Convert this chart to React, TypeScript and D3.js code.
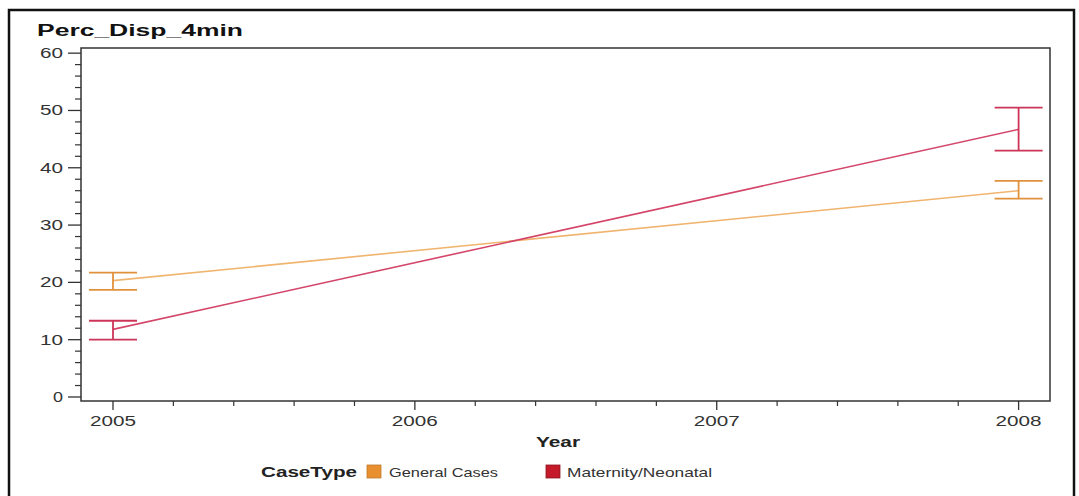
import React from "react";
import * as d3 from "d3";

// Survey years and the two case-type series (mean with lower/upper confidence limits)
const years = [2005, 2008];
const generalMean = [20.3, 36.0];
const generalLower = [18.7, 34.6];
const generalUpper = [21.7, 37.7];
const maternityMean = [11.8, 46.7];
const maternityLower = [10.0, 43.0];
const maternityUpper = [13.3, 50.5];

const yTicks = [0, 10, 20, 30, 40, 50, 60];
const xTicks = [2005, 2006, 2007, 2008];
const seriesNames = ["General Cases", "Maternity/Neonatal"];

const W = 1079;
const H = 496;
const FONT = "'Liberation Sans', Arial, sans-serif";

export default function App() {
  const x = d3.scaleLinear().domain([2004.894, 2008.104]).range([81, 1050]);
  const y = d3.scaleLinear().domain([-0.7, 60.9]).range([401, 48]);

  const series = [
    { name: seriesNames[0], mean: generalMean, lo: generalLower, hi: generalUpper, line: "#f0b46e", bar: "#e0913c", swatch: "#e8902f" },
    { name: seriesNames[1], mean: maternityMean, lo: maternityLower, hi: maternityUpper, line: "#d4456a", bar: "#cc3558", swatch: "#c41a2a" },
  ];

  const line = d3
    .line<number>()
    .x((_, i) => x(years[i]))
    .y((d) => y(d));

  const minorY = d3.range(0, 61, 2).filter((v) => v % 10 !== 0);
  const minorX = d3.range(2005, 2008.001, 0.2).filter((v) => Math.abs(v - Math.round(v)) > 0.01);
  const capHalf = 24;

  return (
    <svg width={W} height={H} style={{ position: "absolute", left: 0, top: 0, background: "#fff" }}>
      {/* outer frame */}
      <rect x={9} y={10} width={1065} height={500} fill="none" stroke="#111" strokeWidth={2.5} />

      <text x={37} y={36} fontFamily={FONT} fontWeight="bold" fontSize={16} textLength={206} lengthAdjust="spacingAndGlyphs" fill="#111">
        Perc_Disp_4min
      </text>

      {/* plot box */}
      <rect x={81} y={48} width={969} height={353} fill="#fff" stroke="#333" strokeWidth={1.5} />

      {/* y axis ticks */}
      {yTicks.map((t) => (
        <g key={"y" + t}>
          <line x1={68} x2={81} y1={y(t)} y2={y(t)} stroke="#333" strokeWidth={1.3} />
          <text x={63} y={y(t) + 5} textAnchor="end" fontFamily={FONT} fontSize={14} textLength={t === 0 ? 10 : 23} lengthAdjust="spacingAndGlyphs" fill="#333">
            {t}
          </text>
        </g>
      ))}
      {minorY.map((t) => (
        <line key={"ym" + t} x1={75} x2={81} y1={y(t)} y2={y(t)} stroke="#333" strokeWidth={1.2} />
      ))}

      {/* x axis ticks */}
      {xTicks.map((t) => (
        <g key={"x" + t}>
          <line x1={x(t)} x2={x(t)} y1={401} y2={410} stroke="#333" strokeWidth={1.3} />
          <text x={x(t)} y={426} textAnchor="middle" fontFamily={FONT} fontSize={14} textLength={46} lengthAdjust="spacingAndGlyphs" fill="#333">
            {t}
          </text>
        </g>
      ))}
      {minorX.map((t) => (
        <line key={"xm" + t.toFixed(1)} x1={x(t)} x2={x(t)} y1={401} y2={406} stroke="#333" strokeWidth={1.2} />
      ))}

      <text x={558} y={447} textAnchor="middle" fontFamily={FONT} fontWeight="bold" fontSize={15} textLength={44} lengthAdjust="spacingAndGlyphs" fill="#222">
        Year
      </text>

      {/* series lines and confidence bars */}
      {series.map((s) => (
        <g key={s.name}>
          <path d={line(s.mean) || ""} fill="none" stroke={s.line} strokeWidth={1.6} />
          {years.map((yr, i) => (
            <g key={yr} stroke={s.bar} strokeWidth={1.8}>
              <line x1={x(yr)} x2={x(yr)} y1={y(s.lo[i])} y2={y(s.hi[i])} />
              <line x1={x(yr) - capHalf} x2={x(yr) + capHalf} y1={y(s.lo[i])} y2={y(s.lo[i])} />
              <line x1={x(yr) - capHalf} x2={x(yr) + capHalf} y1={y(s.hi[i])} y2={y(s.hi[i])} />
            </g>
          ))}
        </g>
      ))}

      {/* legend */}
      <text x={261} y={477} fontFamily={FONT} fontWeight="bold" fontSize={14} textLength={96} lengthAdjust="spacingAndGlyphs" fill="#222">
        CaseType
      </text>
      <rect x={367} y={465} width={14} height={13} fill={series[0].swatch} stroke="#c07a30" strokeWidth={0.8} />
      <text x={389} y={477} fontFamily={FONT} fontSize={13} textLength={109} lengthAdjust="spacingAndGlyphs" fill="#333">
        {seriesNames[0]}
      </text>
      <rect x={546} y={465} width={14} height={13} fill={series[1].swatch} stroke="#901420" strokeWidth={0.8} />
      <text x={567} y={477} fontFamily={FONT} fontSize={13} textLength={145} lengthAdjust="spacingAndGlyphs" fill="#333">
        {seriesNames[1]}
      </text>
    </svg>
  );
}
